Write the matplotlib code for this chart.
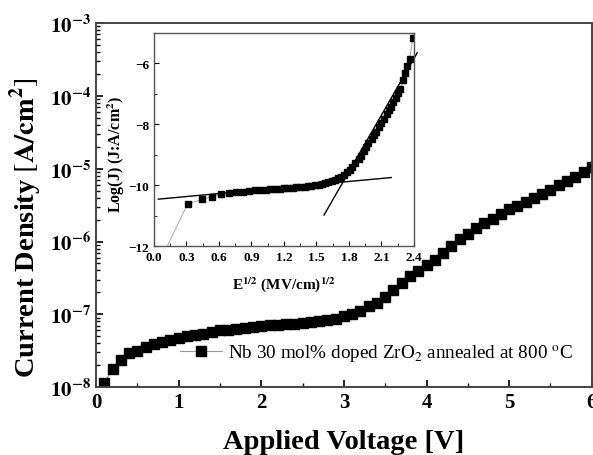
import numpy as np
import matplotlib
matplotlib.use('Agg')
import matplotlib.pyplot as plt
from matplotlib.ticker import FuncFormatter, MultipleLocator, LogLocator, NullFormatter

plt.rcParams['font.family'] = 'serif'
plt.rcParams['font.serif'] = ['Liberation Serif', 'DejaVu Serif']
plt.rcParams['mathtext.fontset'] = 'stix'

# J-V curve, 0.1 V steps
voltage = [0.1, 0.2, 0.3, 0.4, 0.5, 0.6, 0.7, 0.8, 0.9, 1.0,
           1.1, 1.2, 1.3, 1.4, 1.5, 1.6, 1.7, 1.8, 1.9, 2.0,
           2.1, 2.2, 2.3, 2.4, 2.5, 2.6, 2.7, 2.8, 2.9, 3.0,
           3.1, 3.2, 3.3, 3.4, 3.5, 3.6, 3.7, 3.8, 3.9, 4.0,
           4.1, 4.2, 4.3, 4.4, 4.5, 4.6, 4.7, 4.8, 4.9, 5.0,
           5.1, 5.2, 5.3, 5.4, 5.5, 5.6, 5.7, 5.8, 5.9, 6.0]
log_j = [-7.95, -7.75, -7.63, -7.53, -7.50, -7.45, -7.41, -7.38, -7.35, -7.32,
         -7.30, -7.28, -7.265, -7.24, -7.22, -7.21, -7.20, -7.19, -7.17, -7.155,
         -7.15, -7.145, -7.14, -7.13, -7.12, -7.105, -7.09, -7.08, -7.06, -7.03,
         -7.00, -6.955, -6.89, -6.84, -6.76, -6.67, -6.57, -6.48, -6.41, -6.32,
         -6.25, -6.155, -6.065, -5.97, -5.90, -5.82, -5.75, -5.69, -5.62, -5.56,
         -5.51, -5.46, -5.40, -5.35, -5.29, -5.23, -5.17, -5.11, -5.05, -4.97]
current = [10 ** v for v in log_j]

# Poole-Frenkel style plot for the inset
e_sqrt = [0.0, 0.31, 0.44, 0.54, 0.62, 0.69, 0.76, 0.82, 0.88, 0.93, 0.98,
          1.03, 1.07, 1.12, 1.16, 1.20, 1.24, 1.28, 1.31, 1.35, 1.39,
          1.42, 1.45, 1.49, 1.52, 1.55, 1.58, 1.61, 1.64, 1.67, 1.70,
          1.73, 1.75, 1.78, 1.81, 1.83, 1.86, 1.89, 1.91, 1.94, 1.96,
          1.98, 2.01, 2.03, 2.05, 2.08, 2.10, 2.12, 2.15, 2.17, 2.19,
          2.21, 2.23, 2.25, 2.27, 2.30, 2.32, 2.34, 2.36, 2.39]
log_j_inset = [-12.9, -10.62, -10.47, -10.38, -10.30, -10.26, -10.24, -10.21, -10.19, -10.17, -10.16,
               -10.15, -10.14, -10.12, -10.11, -10.10, -10.09, -10.08, -10.07, -10.06, -10.05,
               -10.04, -10.02, -10.01, -9.99, -9.97, -9.94, -9.90, -9.87, -9.83, -9.78,
               -9.72, -9.66, -9.58, -9.49, -9.40, -9.28, -9.15, -9.03, -8.88, -8.75,
               -8.63, -8.48, -8.36, -8.24, -8.08, -7.96, -7.84, -7.66, -7.54, -7.42,
               -7.28, -7.12, -6.98, -6.84, -6.55, -6.32, -6.10, -5.87, -5.15]

# linear fits (end points)
fit_low_x = [0.04, 2.19]
fit_low_y = [-10.46, -9.75]
fit_high_x = [1.57, 2.43]
fit_high_y = [-10.98, -5.65]

label = r'Nb 30 mol% doped ZrO$_2$ annealed at 800 $^{\rm o}$C'

fig = plt.figure(figsize=(5.93, 4.56), dpi=100)
ax = fig.add_axes([0.1619, 0.149, 0.8361, 0.798])

ax.semilogy(voltage, current, color='#999999', lw=0.8, marker='s', ms=6.5,
            mfc='black', mec='black', label=label)
ax.set_xlim(0, 6)
ax.set_ylim(1e-8, 1e-3)

ax.xaxis.set_major_locator(MultipleLocator(1))
ax.xaxis.set_minor_locator(MultipleLocator(0.5))
ax.yaxis.set_major_locator(LogLocator(base=10, numticks=10))
ax.yaxis.set_minor_locator(LogLocator(base=10, subs=np.arange(2, 10), numticks=20))
ax.yaxis.set_minor_formatter(NullFormatter())
ax.yaxis.set_major_formatter(FuncFormatter(
    lambda v, p: r'$\mathbf{10^{%d}}$' % int(round(np.log10(v)))))
ax.tick_params(which='both', direction='in', labelsize=15)
ax.tick_params(which='major', length=5, width=1.2)
ax.tick_params(which='minor', length=3, width=1)
for t in ax.get_xticklabels():
    t.set_fontweight('bold')
for s in ax.spines.values():
    s.set_color('#444444')
    s.set_linewidth(1.4)

ax.set_xlabel('Applied Voltage [V]', fontsize=20.5, fontweight='bold', labelpad=12)
ax.set_ylabel(r'Current Density $\left[\mathbf{A/cm^2}\right]$', fontsize=20.5,
              fontweight='bold')
ax.yaxis.set_label_coords(-0.105, 0.44)

ax.legend(loc='center left', bbox_to_anchor=(0.17, 0.093), frameon=False,
          fontsize=13.8, borderaxespad=0, borderpad=0, handlelength=2.2,
          handletextpad=0.3)

# inset
ins = fig.add_axes([0.2597, 0.4583, 0.4384, 0.4671])
ins.plot(e_sqrt, log_j_inset, color='#aaaaaa', lw=0.7, marker='s', ms=3.8,
         mfc='black', mec='black')
ins.plot(fit_low_x, fit_low_y, color='black', lw=1.0, clip_on=False)
ins.plot(fit_high_x, fit_high_y, color='black', lw=1.0, clip_on=False)
ins.set_xlim(0, 2.4)
ins.set_ylim(-12, -5)
ins.xaxis.set_major_locator(MultipleLocator(0.3))
ins.xaxis.set_minor_locator(MultipleLocator(0.15))
ins.yaxis.set_major_locator(MultipleLocator(2))
ins.yaxis.set_minor_locator(MultipleLocator(1))
ins.xaxis.set_major_formatter(FuncFormatter(lambda v, p: '%.1f' % v))
ins.tick_params(which='both', direction='in', labelsize=9.5)
ins.tick_params(which='major', length=3.5)
ins.tick_params(which='minor', length=2)
for t in ins.get_xticklabels() + ins.get_yticklabels():
    t.set_fontweight('bold')
for s in ins.spines.values():
    s.set_color('#555555')
    s.set_linewidth(1.0)
ins.set_xlabel(r'E$^{\mathbf{1/2}}$ (MV/cm)$^{\mathbf{1/2}}$', fontsize=11,
               fontweight='bold', labelpad=8)
ins.set_ylabel(r'Log(J) (J:A/cm$^{\mathbf{2}}$)', fontsize=11.5, fontweight='bold')
ins.yaxis.set_label_coords(-0.104, 0.437)

fig.savefig('out.png', dpi=100)
